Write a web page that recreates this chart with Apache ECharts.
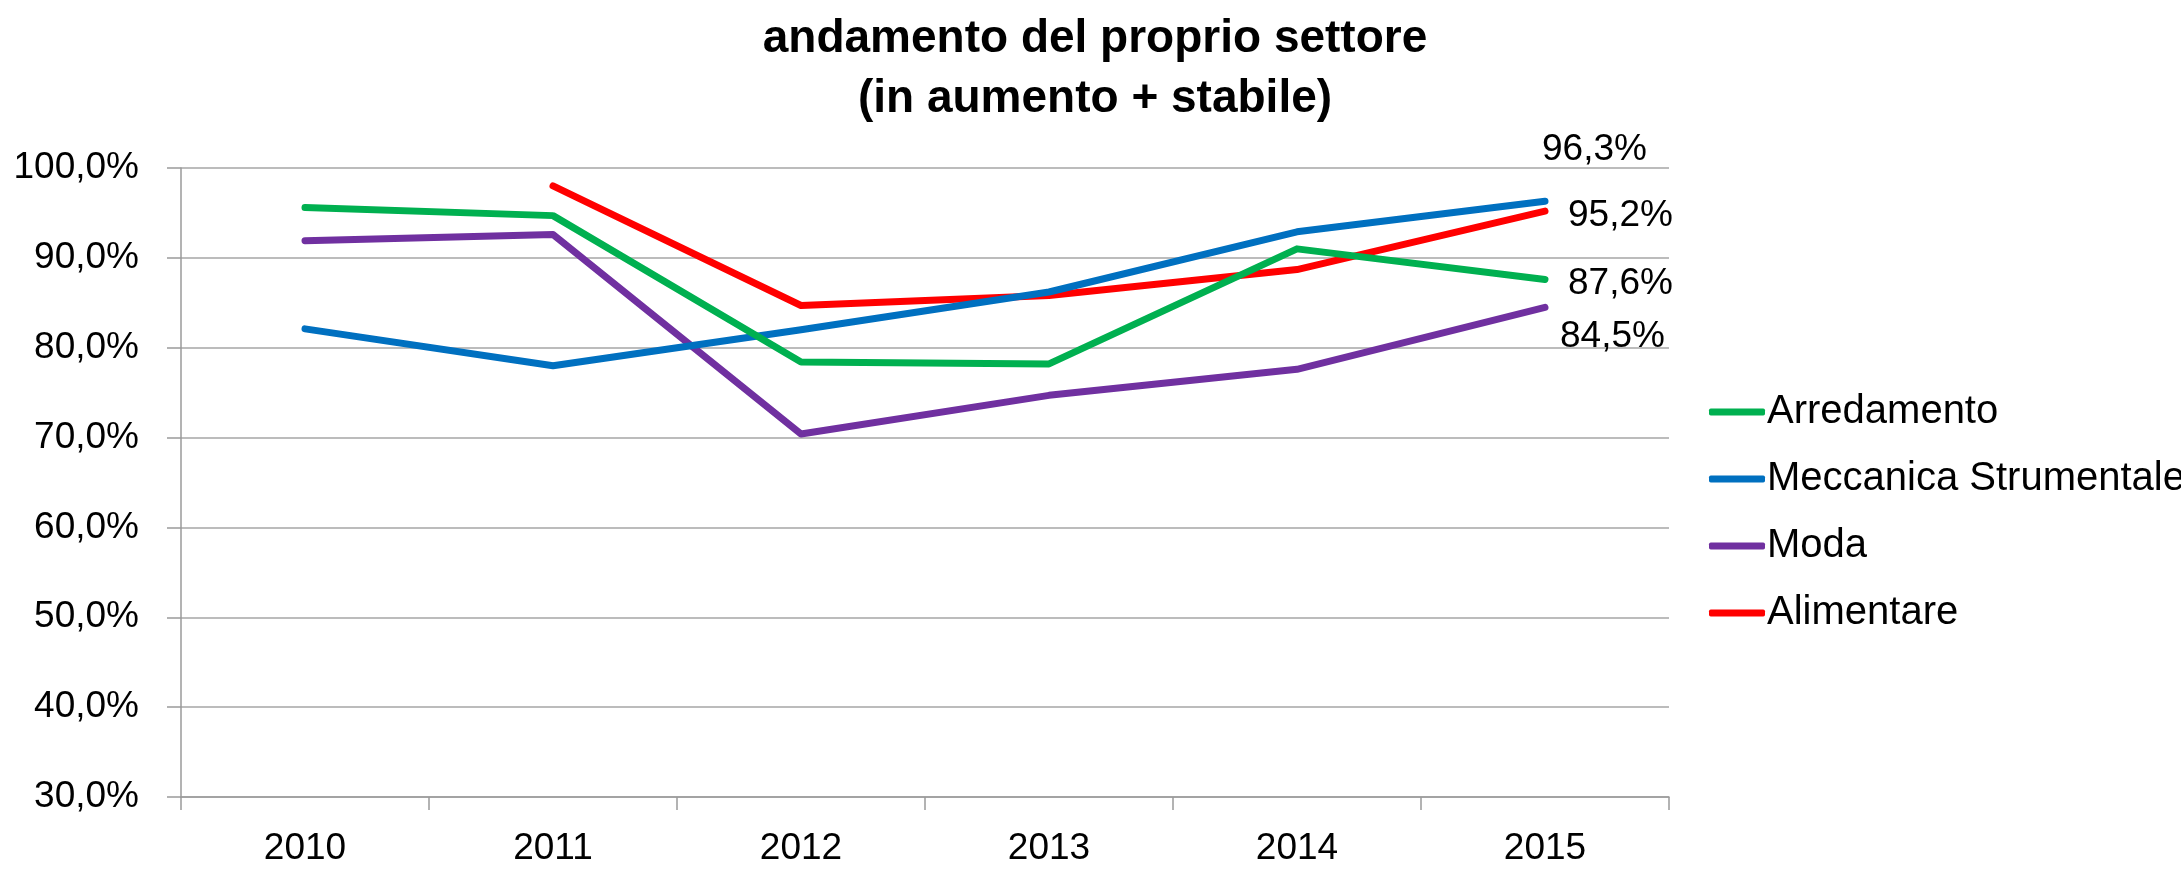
<!DOCTYPE html>
<html>
<head>
<meta charset="utf-8">
<script src="https://cdn.jsdelivr.net/npm/echarts@6/dist/echarts.min.js"></script>
<style>
html,body{margin:0;padding:0;background:#fff;}
#chart{width:2181px;height:870px;}
</style>
</head>
<body>
<div id="chart"></div>
<script>
var titleText = 'andamento del proprio settore\n(in aumento + stabile)';
var categories = ['2010', '2011', '2012', '2013', '2014', '2015'];
var seriesNames = ['Arredamento', 'Meccanica Strumentale', 'Moda', 'Alimentare'];
var arredamento = [95.6, 94.7, 78.4, 78.2, 91.0, 87.6];
var meccanica = [82.1, 78.0, 82.0, 86.2, 92.9, 96.3];
var moda = [91.9, 92.6, 70.4, 74.7, 77.6, 84.5];
var alimentare = [null, 98.0, 84.7, 85.8, 88.7, 95.2];

var values = [arredamento, meccanica, moda, alimentare];
var colors = ['#00B050', '#0070C0', '#7030A0', '#FF0000'];
var endLabelOffsets = [[18, 4], [-8, -51], [10, 30], [18, 5]];

function pct(v) { return v.toFixed(1).replace('.', ',') + '%'; }

var FONT = 'Liberation Sans';

var series = values.map(function (arr, si) {
  return {
    name: seriesNames[si],
    type: 'line',
    symbol: 'none',
    showSymbol: false,
    connectNulls: false,
    lineStyle: { color: colors[si], width: 7, cap: 'round', join: 'round' },
    itemStyle: { color: colors[si] },
    z: 10 - si,
    endLabel: {
      show: true,
      distance: 5,
      offset: endLabelOffsets[si],
      formatter: function (p) {
        var v = Array.isArray(p.value) ? p.value[1] : p.value;
        return pct(v);
      },
      color: '#000',
      fontFamily: FONT,
      fontSize: 37
    },
    data: arr
  };
});

var chart = echarts.init(document.getElementById('chart'), null, { renderer: 'canvas' });
chart.setOption({
  animation: false,
  backgroundColor: '#fff',
  title: {
    text: titleText,
    left: 1095,
    textAlign: 'center',
    top: 9,
    padding: 0,
    textStyle: {
      fontFamily: FONT,
      fontWeight: 'bold',
      fontSize: 46,
      lineHeight: 60,
      color: '#000'
    }
  },
  legend: {
    orient: 'vertical',
    left: 1709,
    top: 392,
    padding: 0,
    itemWidth: 56,
    itemHeight: 7,
    itemGap: 27,
    icon: 'roundRect',
    textStyle: { fontFamily: FONT, fontSize: 40, lineHeight: 40, color: '#000', padding: [0, 0, 0, -3] },
    data: seriesNames
  },
  grid: { left: 181, right: 512, top: 168, bottom: 73, containLabel: false },
  xAxis: {
    type: 'category',
    data: categories,
    boundaryGap: true,
    axisLine: { show: true, lineStyle: { color: '#9a9a9a', width: 1.5 } },
    axisTick: { show: true, alignWithLabel: false, length: 13, lineStyle: { color: '#9a9a9a', width: 1.5 } },
    axisLabel: { margin: 33, fontFamily: FONT, fontSize: 37, color: '#000' },
    splitLine: { show: false }
  },
  yAxis: {
    type: 'value',
    min: 30,
    max: 100,
    interval: 10,
    axisLine: { show: true, lineStyle: { color: '#9a9a9a', width: 1.5 } },
    axisTick: { show: true, length: 14, lineStyle: { color: '#9a9a9a', width: 1.5 } },
    axisLabel: { margin: 42, fontFamily: FONT, fontSize: 37, color: '#000', formatter: pct },
    splitLine: { show: true, lineStyle: { color: '#a6a6a6', width: 1.5 } }
  },
  series: series
});
</script>
</body>
</html>
